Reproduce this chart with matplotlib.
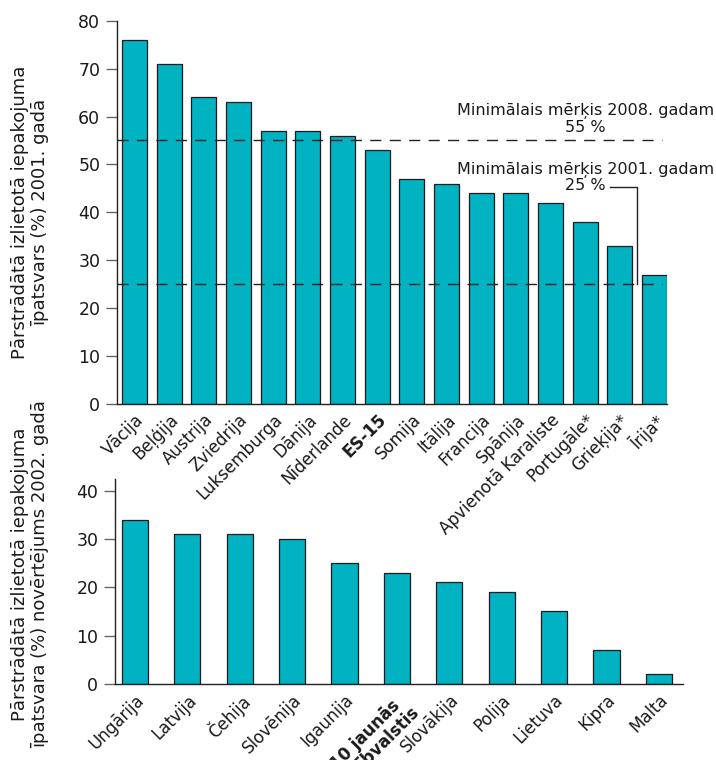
import matplotlib
matplotlib.use("Agg")
import matplotlib.pyplot as plt
import matplotlib.transforms as mtransforms
import numpy as np

# Share of recycled packaging waste, EU-15, 2001
eu15_countries = ["Vācija", "Beļģija", "Austrija", "Zviedrija", "Luksemburga",
                  "Dānija", "Nīderlande", "ES-15", "Somija", "Itālija",
                  "Francija", "Spānija", "Apvienotā Karaliste", "Portugāle*",
                  "Grieķija*", "Īrija*"]
eu15_values = [76, 71, 64, 63, 57, 57, 56, 53, 47, 46, 44, 44, 42, 38, 33, 27]

# Estimated share of recycled packaging waste, new member states, 2002
new_countries = ["Ungārija", "Latvija", "Čehija", "Slovēnija", "Igaunija",
                 "10 jaunās\ndalībvalstis", "Slovākija", "Polija", "Lietuva",
                 "Kipra", "Malta"]
new_values = [34, 31, 31, 30, 25, 23, 21, 19, 15, 7, 2]

# Minimum targets (%)
target_2008 = 55
target_2001 = 25

bold_labels = {"ES-15", "10 jaunās\ndalībvalstis"}

BAR_COLOR = "#00B2C2"
EDGE_COLOR = "#1a1a1a"
TEXT_COLOR = "#1a1a1a"

plt.rcParams["font.family"] = ["DejaVu Sans"]

W, H = 716, 760
fig = plt.figure(figsize=(W / 100, H / 100), dpi=100)


def px_rect(left, top, right, bottom):
    return [left / W, 1 - bottom / H, (right - left) / W, (bottom - top) / H]


def style_axes(ax):
    ax.set_facecolor("none")
    for side in ("top", "right"):
        ax.spines[side].set_visible(False)
    for side in ("left", "bottom"):
        ax.spines[side].set_color("#222222")
        ax.spines[side].set_linewidth(1.0)
    ax.tick_params(axis="y", direction="out", length=8, width=1.0,
                   color="#666666", labelsize=12.5, pad=4,
                   labelcolor=TEXT_COLOR)
    ax.tick_params(axis="x", length=0, labelsize=12, labelcolor=TEXT_COLOR)


# ---- upper panel -------------------------------------------------------
ax1 = fig.add_axes(px_rect(117, 20.7, 667, 404))
x1 = np.arange(len(eu15_countries))
ax1.bar(x1, eu15_values, width=0.72, color=BAR_COLOR,
        edgecolor=EDGE_COLOR, linewidth=0.9, zorder=2)
ax1.set_xlim(-0.504, len(eu15_countries) - 1 + 0.36)
ax1.set_ylim(0, 80)
ax1.set_yticks(np.arange(0, 81, 10))
style_axes(ax1)

for level in (target_2008, target_2001):
    ax1.axhline(level, xmin=0, xmax=0.991, color="#222222", linewidth=1.0,
                dashes=(8, 6), zorder=3)

ax1.set_xticks(x1)
ax1.set_xticklabels(eu15_countries, rotation=45, ha="right", va="top",
                    rotation_mode="anchor")
for lab in ax1.get_xticklabels():
    if lab.get_text() in bold_labels:
        lab.set_fontweight("bold")
ax1.tick_params(axis="x", pad=5)

ax1.text(13.0, 59.5, f"Minimālais mērķis 2008. gadam\n{target_2008} %",
         ha="center", va="center", fontsize=11.5, color=TEXT_COLOR,
         linespacing=1.05, zorder=4)
ax1.text(13.0, 47.3, f"Minimālais mērķis 2001. gadam\n{target_2001} %",
         ha="center", va="center", fontsize=11.5, color=TEXT_COLOR,
         linespacing=1.05, zorder=4)
# leader line from the 25 % label down to its target line
ax1.plot([13.72, 14.49, 14.49], [45.3, 45.3, target_2001],
         color="#222222", linewidth=1.0, zorder=4, clip_on=False)

fig.text(30 / W, 1 - 212 / H,
         "Pārstrādātā izlietotā iepakojuma\nīpatsvars (%) 2001. gadā",
         rotation=90, ha="center", va="center", multialignment="center",
         fontsize=13, color=TEXT_COLOR, linespacing=1.2)

# ---- lower panel -------------------------------------------------------
ax2 = fig.add_axes(px_rect(115, 479, 683, 684))
x2 = np.arange(len(new_countries))
ax2.bar(x2, new_values, width=0.5, color=BAR_COLOR,
        edgecolor=EDGE_COLOR, linewidth=0.9, zorder=2)
ax2.set_xlim(-0.38, len(new_countries) - 1 + 0.46)
ax2.set_ylim(0, 42.4)
ax2.set_yticks(np.arange(0, 41, 10))
style_axes(ax2)

ax2.set_xticks(x2)
ax2.set_xticklabels(new_countries, rotation=45, ha="right", va="top",
                    rotation_mode="anchor", multialignment="center",
                    linespacing=1.0)
shift = mtransforms.ScaledTranslation(8 / 100, 0, fig.dpi_scale_trans)
for lab in ax2.get_xticklabels():
    lab.set_transform(lab.get_transform() + shift)
    if lab.get_text() in bold_labels:
        lab.set_fontweight("bold")
ax2.tick_params(axis="x", pad=5)

fig.text(30 / W, 1 - 574 / H,
         "Pārstrādātā izlietotā iepakojuma\nīpatsvara (%) novērtējums 2002. gadā",
         rotation=90, ha="center", va="center", multialignment="center",
         fontsize=13, color=TEXT_COLOR, linespacing=1.2)

fig.savefig("out.png", dpi=100, facecolor="white")
